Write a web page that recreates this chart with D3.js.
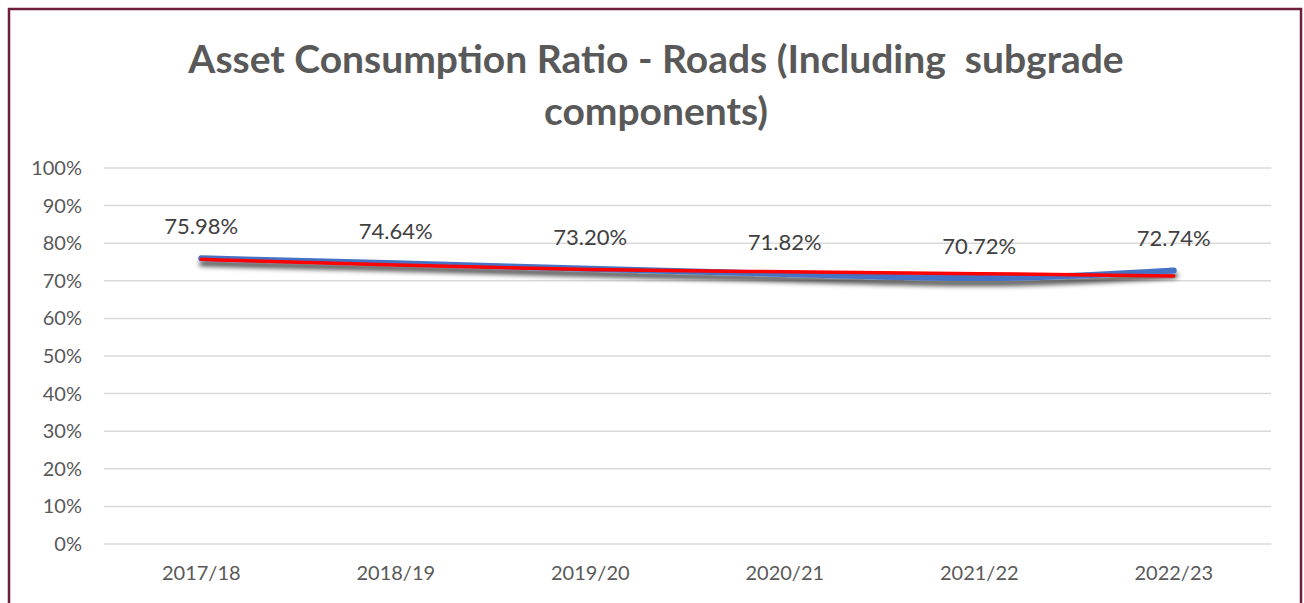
<!DOCTYPE html>
<html>
<head>
<meta charset="utf-8">
<script src="https://cdn.jsdelivr.net/npm/d3@7"></script>
<style>
  body { margin: 0; background: #fff; }
  text { font-family: Lato, "Open Sans", sans-serif; }
</style>
</head>
<body>
<div id="chart"></div>
<script>
// categories and values
const years = ["2017/18", "2018/19", "2019/20", "2020/21", "2021/22", "2022/23"];
const ratio = [75.98, 74.64, 73.20, 71.82, 70.72, 72.74];
// red line drawn over the blue one (estimated)
const redLine = [75.7, 74.2, 73.0, 72.4, 71.9, 71.3];
const yTicks = [0, 10, 20, 30, 40, 50, 60, 70, 80, 90, 100];
const titleLines = ["Asset Consumption Ratio - Roads (Including  subgrade", "components)"];

function init() {
  const width = 1304, height = 603;
  const margin = {left: 104, right: 33, top: 168, bottom: 59};

  const svg = d3.select("#chart").append("svg")
    .attr("width", width)
    .attr("height", height);

  const defs = svg.append("defs");
  const shadow = defs.append("filter").attr("id", "shadow")
    .attr("x", "-5%").attr("y", "-100%").attr("width", "110%").attr("height", "400%");
  shadow.append("feGaussianBlur").attr("in", "SourceAlpha").attr("stdDeviation", 2.5).attr("result", "b");
  shadow.append("feOffset").attr("in", "b").attr("dx", 1).attr("dy", 5).attr("result", "o");
  shadow.append("feComponentTransfer").attr("in", "o").attr("result", "s")
    .append("feFuncA").attr("type", "linear").attr("slope", 0.7);
  const merge = shadow.append("feMerge");
  merge.append("feMergeNode").attr("in", "s");
  merge.append("feMergeNode").attr("in", "SourceGraphic");

  // outer frame
  svg.append("rect")
    .attr("x", 9).attr("y", 9)
    .attr("width", 1292).attr("height", 620)
    .attr("fill", "none")
    .attr("stroke", "#6e1f3c")
    .attr("stroke-width", 2.5);

  // title
  svg.append("text")
    .attr("text-anchor", "middle")
    .attr("fill", "#595959")
    .style("font-weight", "bold")
    .style("font-size", "39px")
    .selectAll("tspan")
    .data(titleLines)
    .join("tspan")
    .attr("x", 656)
    .attr("y", (d, i) => 73 + i * 52)
    .style("white-space", "pre")
    .text(d => d);

  const x = d3.scaleBand()
    .domain(years)
    .range([margin.left, width - margin.right]);

  const y = d3.scaleLinear()
    .domain([0, 100])
    .range([height - margin.bottom, margin.top]);

  // gridlines
  svg.append("g")
    .selectAll("line")
    .data(yTicks)
    .join("line")
    .attr("x1", margin.left)
    .attr("x2", width - margin.right)
    .attr("y1", d => y(d))
    .attr("y2", d => y(d))
    .attr("stroke", "#d9d9d9")
    .attr("stroke-width", 1.5);

  // y axis labels
  const yAxis = svg.append("g")
    .attr("transform", `translate(${margin.left},0)`)
    .call(d3.axisLeft(y).tickValues(yTicks).tickFormat(d => d + "%").tickSize(0).tickPadding(22));
  yAxis.select(".domain").remove();
  yAxis.selectAll("text")
    .attr("fill", "#595959")
    .style("font-size", "20px")
    .style("font-family", "Lato, sans-serif");

  // x axis labels
  const xAxis = svg.append("g")
    .attr("transform", `translate(0,${height - margin.bottom})`)
    .call(d3.axisBottom(x).tickSize(0).tickPadding(22));
  xAxis.select(".domain").remove();
  xAxis.selectAll("text")
    .attr("fill", "#595959")
    .style("font-size", "20px")
    .style("font-family", "Lato, sans-serif");

  const cx = d => x(d) + x.bandwidth() / 2;

  const line = d3.line()
    .x((d, i) => cx(years[i]))
    .y(d => y(d))
    .curve(d3.curveMonotoneX);

  svg.append("path")
    .datum(ratio)
    .attr("d", line)
    .attr("fill", "none")
    .attr("stroke", "#4472c4")
    .attr("stroke-width", 6)
    .attr("stroke-linecap", "round")
    .attr("filter", "url(#shadow)");

  svg.append("path")
    .datum(redLine)
    .attr("d", line)
    .attr("fill", "none")
    .attr("stroke", "#ff0000")
    .attr("stroke-width", 3.5)
    .attr("stroke-linecap", "round");

  // data labels
  svg.append("g")
    .selectAll("text")
    .data(ratio)
    .join("text")
    .attr("x", (d, i) => cx(years[i]))
    .attr("y", d => y(d) - 24)
    .attr("text-anchor", "middle")
    .attr("fill", "#404040")
    .style("font-size", "22px")
    .text(d => d.toFixed(2) + "%");
}

window.onload = init;
</script>
</body>
</html>
